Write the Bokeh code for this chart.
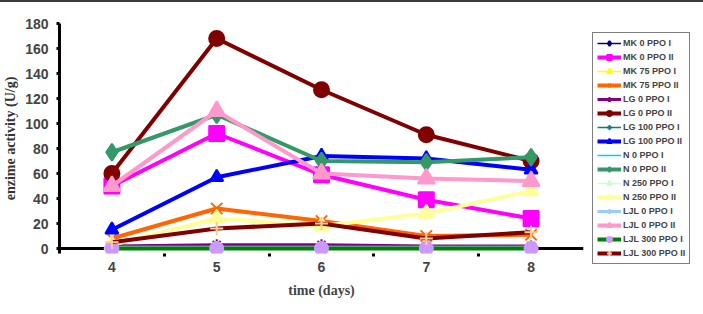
from bokeh.plotting import figure
from bokeh.models import (Legend, LegendItem, FixedTicker, Range1d, Span)
from bokeh.embed import file_html
from bokeh.resources import INLINE

# Sampling days
days = [4, 5, 6, 7, 8]

# Enzyme activity (U/g) per treatment and isoform
mk0_ppo1 = [1, 1, 1, 1, 1]
mk0_ppo2 = [50, 92, 59, 39, 24]
mk75_ppo1 = [1, 2, 1, 1, 1]
mk75_ppo2 = [8, 32, 22, 10, 11]
lg0_ppo1 = [2, 3, 3, 2, 2]
lg0_ppo2 = [60, 168, 127, 91, 70]
lg100_ppo1 = [1, 1, 1, 1, 1]
lg100_ppo2 = [15, 57, 74, 72, 63]
n0_ppo1 = [1, 1, 1, 1, 1]
n0_ppo2 = [77, 107, 70, 69, 73]
n250_ppo1 = [1, 1, 1, 1, 1]
n250_ppo2 = [3, 24, 18, 28, 46]
ljl0_ppo1 = [1, 1, 1, 1, 1]
ljl0_ppo2 = [50, 110, 60, 56, 54]
ljl300_ppo1 = [0, 0, 0, 0, 0]
ljl300_ppo2 = [5, 16, 20, 8, 13]

y_ticks = [0, 20, 40, 60, 80, 100, 120, 140, 160, 180]

# (label, values, line colour, line width, marker, marker fill, marker line, marker size)
series = [
    ("MK 0 PPO I", mk0_ppo1, "#000080", 1.5, "diamond", "#000080", "#000080", 8),
    ("MK 0 PPO II", mk0_ppo2, "#FF00FF", 4, "square", "#FF00FF", "#FF00FF", 15),
    ("MK 75 PPO I", mk75_ppo1, "#FFFF00", 1.5, "triangle", "#FFFF00", "#FFFF00", 9),
    ("MK 75 PPO II", mk75_ppo2, "#FF6600", 4, "x", "#FF6600", "#FF6600", 16),
    ("LG 0 PPO I", lg0_ppo1, "#800080", 3, "asterisk", "#800080", "#800080", 11),
    ("LG 0 PPO II", lg0_ppo2, "#800000", 4, "circle", "#800000", "#800000", 15),
    ("LG 100 PPO I", lg100_ppo1, "#008080", 1.5, "cross", "#008080", "#008080", 9),
    ("LG 100 PPO II", lg100_ppo2, "#0000FF", 4, "triangle", "#0000FF", "#0000FF", 13),
    ("N 0 PPO I", n0_ppo1, "#00CCFF", 1.5, None, None, None, 0),
    ("N 0 PPO II", n0_ppo2, "#339966", 4, "diamond", "#339966", "#339966", 17),
    ("N 250 PPO I", n250_ppo1, "#CCFFCC", 1.5, "triangle", "#CCFFCC", "#CCFFCC", 8),
    ("N 250 PPO II", n250_ppo2, "#FFFF99", 4, "triangle", "#FFFF99", "#FFFF99", 15),
    ("LJL 0 PPO I", ljl0_ppo1, "#99CCFF", 3, "cross", "#99CCFF", "#99CCFF", 9),
    ("LJL 0 PPO II", ljl0_ppo2, "#FF99CC", 4, "triangle", "#FF99CC", "#FF99CC", 17),
    ("LJL 300 PPO I", ljl300_ppo1, "#008000", 4, "circle", "#CC99FF", "#CC99FF", 13),
    ("LJL 300 PPO II", ljl300_ppo2, "#800000", 4, "cross", "#FFCC99", "#FFCC99", 13),
]

p = figure(frame_width=524, frame_height=230, output_backend="svg",
           toolbar_location=None,
           x_range=Range1d(3.5, 8.5), y_range=Range1d(-4, 180),
           min_border_left=57, min_border_right=10,
           min_border_top=21, min_border_bottom=61)
p.outline_line_color = None
p.xgrid.visible = False
p.ygrid.visible = False
p.background_fill_color = "white"
p.border_fill_color = "white"
p.styles = {"border-top": "2px solid #3a3a3a", "border-right": "1px solid #3a3a3a",
            "box-sizing": "border-box"}

# Baseline drawn at zero, beneath the series
p.add_layout(Span(location=0, dimension="width", line_color="black",
                  line_width=3, level="underlay"))

items = []
for label, vals, lc, lw, mk, mf, ml, ms in series:
    rs = [p.line(days, vals, line_color=lc, line_width=lw)]
    if mk is not None:
        rs.append(p.scatter(days, vals, marker=mk, size=ms, fill_color=mf,
                            line_color=ml, line_width=2))
    items.append(LegendItem(label=label, renderers=rs))

# X axis: labels at each day, small ticks between days
xa = p.xaxis[0]
xa.ticker = FixedTicker(ticks=days, minor_ticks=[4.5, 5.5, 6.5, 7.5])
xa.axis_line_color = None
xa.major_tick_line_color = None
xa.minor_tick_line_color = "black"
xa.minor_tick_line_width = 3
xa.minor_tick_out = 3
xa.minor_tick_in = 0
xa.major_label_standoff = 2
xa.major_label_text_font = "Liberation Sans"
xa.major_label_text_font_style = "bold"
xa.major_label_text_font_size = "14px"
xa.axis_label = "time (days)"
xa.axis_label_text_font = "Liberation Serif"
xa.axis_label_text_font_style = "bold"
xa.axis_label_text_font_size = "14px"
xa.axis_label_standoff = 8

ya = p.yaxis[0]
ya.ticker = FixedTicker(ticks=y_ticks, minor_ticks=[])
ya.axis_line_width = 3
ya.major_tick_line_width = 3
ya.major_tick_out = 3
ya.major_tick_in = 0
ya.major_label_standoff = 8
ya.major_label_text_font = "Liberation Sans"
ya.major_label_text_font_style = "bold"
ya.major_label_text_font_size = "14px"
ya.axis_label = "enzime activity (U/g)"
ya.axis_label_text_font = "Liberation Serif"
ya.axis_label_text_font_style = "bold"
ya.axis_label_text_font_size = "14px"
ya.axis_label_text_color = "#333333"
ya.axis_label_standoff = 4

legend = Legend(items=items, location="top_left",
                label_text_font="Liberation Sans", label_text_font_style="bold",
                label_text_font_size="9px", label_height=12, glyph_height=12,
                glyph_width=24, label_standoff=2, spacing=2, padding=4,
                margin=9, border_line_color="black", border_line_width=1.5,
                background_fill_alpha=1.0)
p.add_layout(legend, "right")

open("out.html", "w").write(file_html(p, INLINE))
